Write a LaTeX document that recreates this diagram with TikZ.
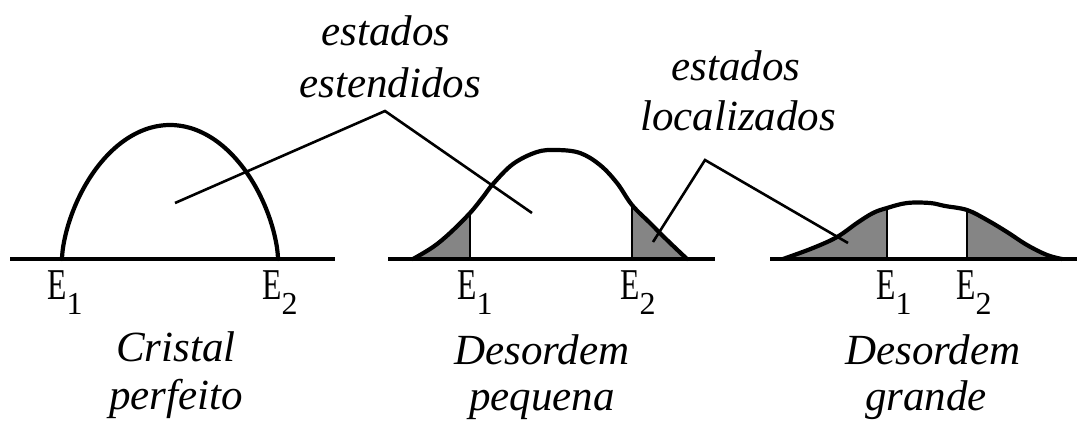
\documentclass[tikz,border=0pt]{standalone}
\usepackage{fontspec}
\setmainfont{Liberation Serif}
\usepackage{graphicx}
\newcommand\Elabel[1]{\scalebox{0.72}[1]{\fontsize{44}{44}\selectfont E}\raisebox{-15pt}{\fontsize{32}{32}\selectfont #1}}
\tikzset{
  curve/.style={line width=4.2pt, line join=round, line cap=round},
  axis/.style={line width=3.2pt},
  pointer/.style={line width=2.6pt, line join=miter},
  sep/.style={line width=2.2pt},
  shadefill/.style={fill=black!48},
  lbl/.style={font=\fontsize{43}{48}\selectfont\itshape, inner sep=0pt, anchor=base},
  elbl/.style={inner sep=0pt, anchor=base west},
}
\begin{document}
\begin{tikzpicture}[x=1pt,y=-1pt]
\useasboundingbox (0,0) rectangle (1091,429);
\fill[white] (0,0) rectangle (1091,429);

% ---------- panel 1: perfect crystal ----------
\draw[axis] (10,259) coordinate (a1s) -- (335,259) coordinate (a1e);
\draw[curve] (62,259) -- plot[domain=0.3:179.7, samples=120, variable=\t]
  ({170-108*cos(\t)}, {259-134*(sin(\t))^1.25}) -- (278,259);

% ---------- panel 2: small disorder ----------
\begin{scope}
  \clip (413,140) rectangle (470,259);
  \fill[shadefill] plot[smooth,tension=0.6] coordinates {(413,259) (433,247) (450,233) (470,213) (483,197) (493,184) (513,164) (537,152) (557,150) (580,153) (600,165) (617,183) (632,205) (650,223) (667,240) (687,259)} -- cycle;
\end{scope}
\begin{scope}
  \clip (632,140) rectangle (687,259);
  \fill[shadefill] plot[smooth,tension=0.6] coordinates {(413,259) (433,247) (450,233) (470,213) (483,197) (493,184) (513,164) (537,152) (557,150) (580,153) (600,165) (617,183) (632,205) (650,223) (667,240) (687,259)} -- cycle;
\end{scope}
\coordinate (b1b) at (470,259); \coordinate (b1t) at (470,213);
\coordinate (b2b) at (632,259); \coordinate (b2t) at (632,205);
\draw[sep] (b1b) -- (b1t);
\draw[sep] (b2b) -- (b2t);
\draw[axis] (388,259) coordinate (a2s) -- (715,259) coordinate (a2e);
\draw[curve] plot[smooth,tension=0.6] coordinates {(413,259) (433,247) (450,233) (470,213) (483,197) (493,184) (513,164) (537,152) (557,150) (580,153) (600,165) (617,183) (632,205) (650,223) (667,240) (687,259)};

% ---------- panel 3: large disorder ----------
\begin{scope}
  \clip (780,190) rectangle (887,259);
  \fill[shadefill] plot[smooth,tension=0.6] coordinates {(783,259) (813,248) (837,237) (857,223) (873,213) (887,208) (907,203) (930,203) (945,206) (967,210) (987,220) (1007,232) (1027,245) (1047,255) (1062,259)} -- cycle;
\end{scope}
\begin{scope}
  \clip (967,190) rectangle (1065,259);
  \fill[shadefill] plot[smooth,tension=0.6] coordinates {(783,259) (813,248) (837,237) (857,223) (873,213) (887,208) (907,203) (930,203) (945,206) (967,210) (987,220) (1007,232) (1027,245) (1047,255) (1062,259)} -- cycle;
\end{scope}
\coordinate (c1b) at (887,259); \coordinate (c1t) at (887,208);
\coordinate (c2b) at (967,259); \coordinate (c2t) at (967,210);
\draw[sep] (c1b) -- (c1t);
\draw[sep] (c2b) -- (c2t);
\draw[axis] (770,259) coordinate (a3s) -- (1077,259) coordinate (a3e);
\draw[curve] plot[smooth,tension=0.6] coordinates {(783,259) (813,248) (837,237) (857,223) (873,213) (887,208) (907,203) (930,203) (945,206) (967,210) (987,220) (1007,232) (1027,245) (1047,255) (1062,259)};

% ---------- pointer lines ----------
\coordinate (ext1) at (175,203);
\coordinate (extapex) at (385,111);
\coordinate (ext2) at (532,213);
\draw[pointer] (ext1) -- (extapex) -- (ext2);
\coordinate (loc1) at (653,242);
\coordinate (locapex) at (705,160);
\coordinate (loc2) at (848,243);
\draw[pointer] (loc1) -- (locapex) -- (loc2);

% ---------- top labels ----------
\node[lbl] (ext-a) at (386,45) {estados};
\node[lbl] (ext-b) at (390,97) {estendidos};
\node[lbl] (loc-a) at (736,80) {estados};
\node[lbl] (loc-b) at (738,130) {localizados};

% ---------- E labels ----------
\node[elbl] (e11) at (47,299) {\Elabel{1}};
\node[elbl] (e12) at (262,299) {\Elabel{2}};
\node[elbl] (e21) at (457,299) {\Elabel{1}};
\node[elbl] (e22) at (620,299) {\Elabel{2}};
\node[elbl] (e31) at (876,299) {\Elabel{1}};
\node[elbl] (e32) at (956,299) {\Elabel{2}};

% ---------- bottom labels ----------
\node[lbl] (p1a) at (176,361) {Cristal};
\node[lbl] (p1b) at (176,409) {perfeito};
\node[lbl] (p2a) at (542,364) {Desordem};
\node[lbl] (p2b) at (542,410) {pequena};
\node[lbl] (p3a) at (933,364) {Desordem};
\node[lbl] (p3b) at (926,410) {grande};
\end{tikzpicture}
\end{document}
